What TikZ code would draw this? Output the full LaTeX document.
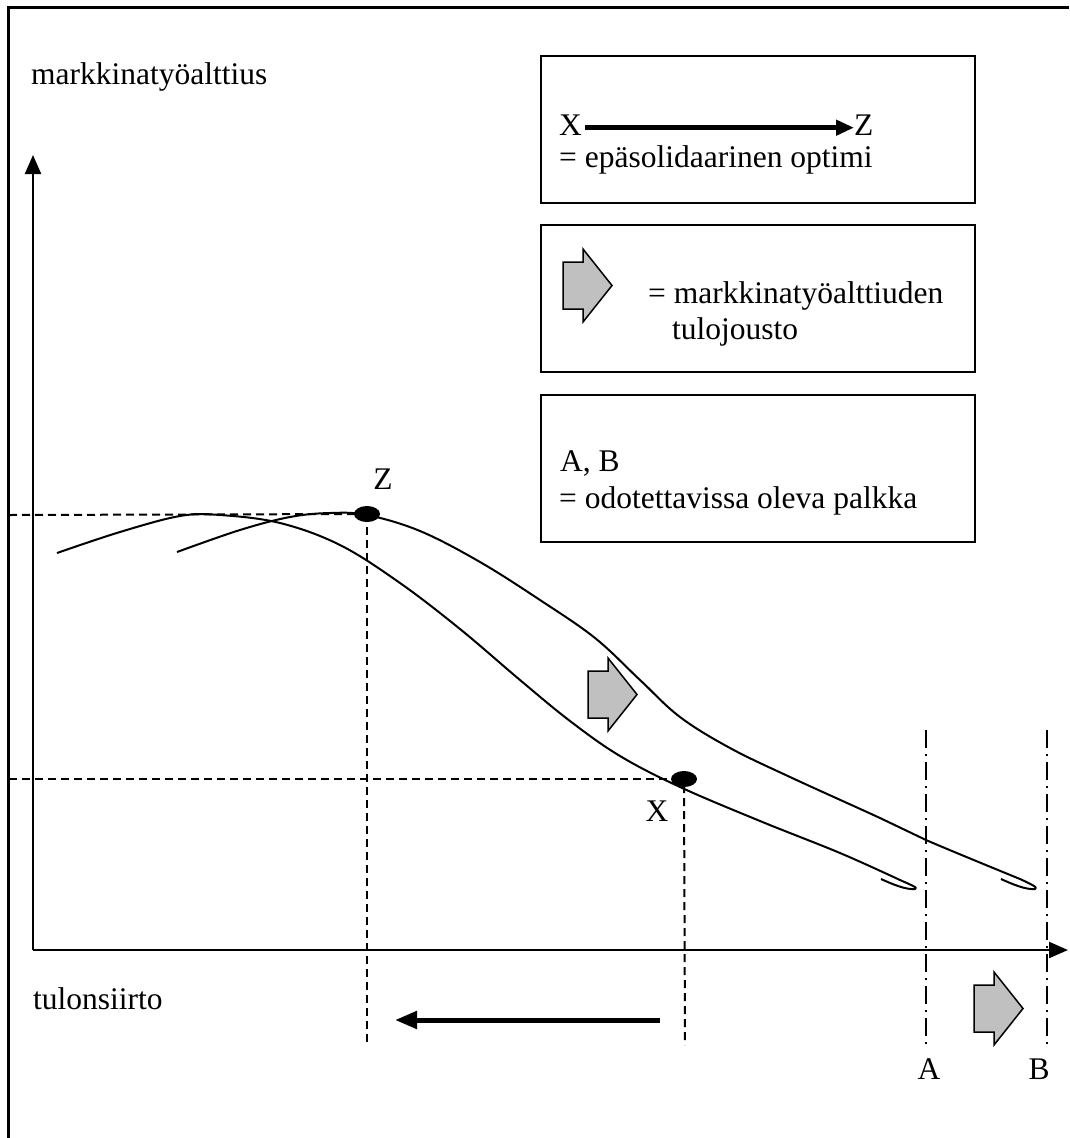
\documentclass[tikz,border=0pt]{standalone}
\usepackage{fontspec}
\setmainfont{Liberation Serif}
\usetikzlibrary{arrows.meta,shapes.geometric}
\definecolor{arrowgray}{RGB}{192,192,192}
\begin{document}
\begin{tikzpicture}[x=1pt,y=-1pt,
  txt/.style={inner sep=0pt, font=\fontsize{31.5}{37}\selectfont},
  frameline/.style={line width=2.2pt},
  axisline/.style={line width=2.2pt, -{Triangle[length=19pt,width=16pt]}},
  guide/.style={line width=2pt, dash pattern=on 8pt off 5pt},
  abline/.style={line width=1.6pt, dash pattern=on 18pt off 6pt on 2pt off 6pt},
  curveline/.style={line width=2pt, line join=round},
  legendbox/.style={draw, line width=1.6pt, minimum width=434pt, minimum height=147pt, anchor=north west, inner sep=0pt},
  dot/.style={ellipse, fill=black, minimum width=26pt, minimum height=16pt, inner sep=0pt},
  fatarrow/.pic={\draw[line width=1.5pt, fill=arrowgray, line join=miter]
     (0,13) -- (20,13) -- (20,0) -- (49,36.5) -- (20,73) -- (20,60) -- (0,60) -- cycle;}
]
\useasboundingbox (0,0) rectangle (1069,1138);

% outer frame
\draw[frameline] (8.5,1138) -- (8.5,7.5) -- (1069,7.5);

% legend boxes
\node[legendbox] (box1) at (540,55) {};
\node[legendbox] (box2) at (540,224) {};
\node[legendbox] (box3) at (540,394) {};

\node[txt, anchor=base west] (lx) at (559,135) {X};
\node[txt, anchor=base west] (lz) at (854,135) {Z};
\draw[line width=5pt, -{Triangle[length=18pt,width=15pt]}] ([xshift=3pt,yshift=-3pt]lx.east) -- ([yshift=-3pt]lz.west);
\node[txt, anchor=base west] (l1) at (559,167) {= epäsolidaarinen optimi};

\pic at (563,249) {fatarrow};
\node[txt, anchor=base west] (l2a) at (648,303) {= markkinatyöalttiuden};
\node[txt, anchor=base west] (l2b) at (672,339) {tulojousto};

\node[txt, anchor=base west] (l3a) at (560,471) {A, B};
\node[txt, anchor=base west] (l3b) at (559,508) {= odotettavissa oleva palkka};

% axes
\coordinate (origin) at (33,950);
\coordinate (ytop) at (33,155);
\coordinate (xend) at (1068,950);
\draw[axisline] (origin) -- (ytop);
\draw[axisline] (origin) -- (xend);
\node[txt, anchor=base west] (ylab) at (31,84) {markkinatyöalttius};
\node[txt, anchor=base west] (xlab) at (33,1009) {tulonsiirto};

% optimum points
\node[dot] (Zdot) at (367,514) {};
\node[dot] (Xdot) at (684,779) {};
\node[txt, anchor=base] (zlab) at (383,489) {Z};
\node[txt, anchor=base] (xlabp) at (657,821) {X};

\coordinate (zl) at (9,515);
\coordinate (zb) at (367,1045);
\coordinate (xl) at (9,779);
\coordinate (xb) at (685,1045);
\draw[guide] (zl) -- (Zdot.center);
\draw[guide] (Zdot.center) -- (zb);
\draw[guide] (xl) -- (Xdot.center);
\draw[guide] ([yshift=-6pt]Xdot.center) -- (xb);

% curves
\draw[curveline] plot[smooth, tension=0.6] coordinates {
 (57,553) (120,532) (180,516) (220,515) (280,523) (340,545) (400,583)
 (460,629) (520,680) (570,721) (620,756) (680,787) (760,821) (840,853) (900,880)}
 .. controls (911,885) and (919,888) .. (915,889)
 .. controls (906,890) and (892,884) .. (881,879);
\draw[curveline] plot[smooth, tension=0.6] coordinates {
 (177,552) (240,530) (290,517) (330,513) (367,515) (420,531) (480,562)
 (540,600) (595,638) (640,680) (680,717) (730,748) (790,777)
 (880,818) (926,840) (1020,879)}
 .. controls (1031,884) and (1039,888) .. (1035,889)
 .. controls (1026,890) and (1012,884) .. (1001,879);

% gray arrows
\pic at (588,658) {fatarrow};
\pic at (974,972) {fatarrow};

% A, B levels
\coordinate (at) at (926,730);
\coordinate (ab) at (926,1045);
\coordinate (bt) at (1047,730);
\coordinate (bb) at (1047,1045);
\draw[abline] (at) -- (ab);
\draw[abline] (bt) -- (bb);
\node[txt, anchor=base] (alab) at (929,1079) {A};
\node[txt, anchor=base] (blab) at (1039,1079) {B};

% income transfer arrow
\coordinate (ts) at (660,1020);
\coordinate (te) at (395,1020);
\draw[line width=5pt, -{Triangle[length=22pt,width=17pt]}] (ts) -- (te);
\end{tikzpicture}
\end{document}
